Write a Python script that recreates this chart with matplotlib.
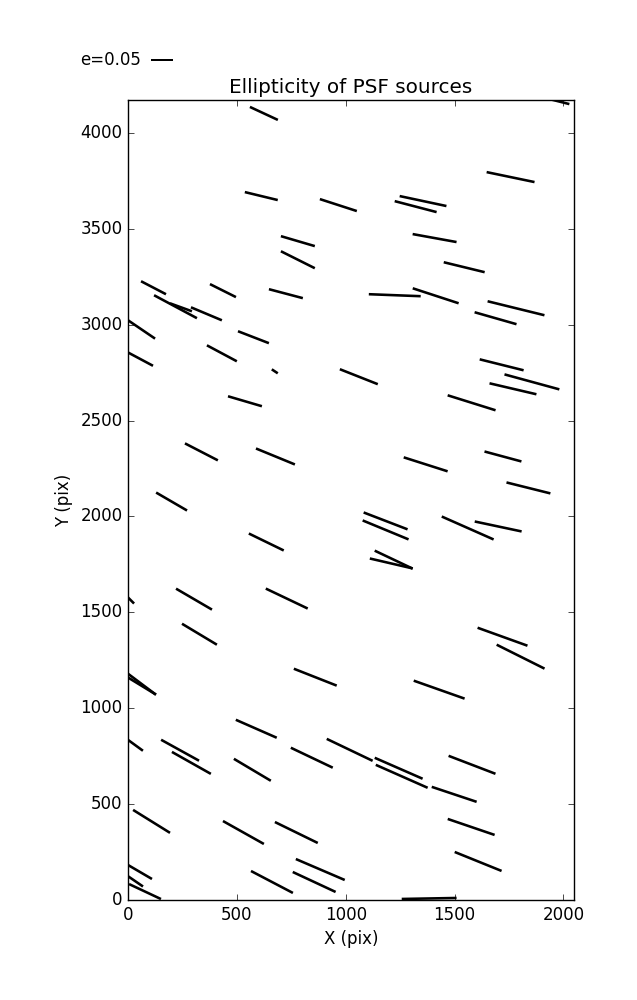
import numpy as np
import matplotlib
matplotlib.use("Agg")
import matplotlib.pyplot as plt

plt.style.use('classic')

# source positions (pix) and ellipticity components
x_src = [1956, 624, 612, 966, 1757, 1355, 1321, 780, 780, 1408,
         1544, 117, 436, 725, 1225, 1413, 1782, 1688, 218, 243,
         360, 60, 55, 576, 431, 674, 1060, 537, 337, 677,
         1716, 1855, 1768, 1578, 1722, 1367, 1839, 200, 635, 303,
         729, -18, 328, 860, 55, 55, 1183, 1183, 1560, 1700,
         1220, 1209, 1720, 1803, 1429, 589, 1018, 18, 239, 291,
         844, 571, 108, 530, 773, 883, 661, 855, 55, 32,
         78, 1243, 1257, 1498, 1580, 1576, 1608, 1383]
y_src = [4171, 4102, 3671, 3624, 3770, 3645, 3616, 3436, 3339, 3452,
         3300, 3193, 3178, 3162, 3154, 3151, 3086, 3034, 3094, 3091,
         3057, 2977, 2822, 2935, 2851, 2757, 2729, 2601, 2337, 2313,
         2791, 2702, 2666, 2593, 2313, 2272, 2149, 2078, 1867, 1569,
         1572, 1598, 1386, 1162, 1133, 1122, 1977, 1930, 1940, 1948,
         1775, 1755, 1373, 1269, 1097, 893, 783, 820, 781, 715,
         742, 679, 410, 352, 352, 159, 94, 94, 146, 99,
         44, 687, 645, 551, 705, 381, 201, 8]
e_x = [0.0714, 0.0645, 0.076, 0.0853, 0.1106, 0.108, 0.0968, 0.0783, 0.0783, 0.1014,
       0.0945, 0.0576, 0.060, 0.0783, 0.1198, 0.106, 0.1313, 0.0968, 0.099, 0.0507,
       0.0714, 0.0645, 0.060, 0.0714, 0.0691, 0.0138, 0.0876, 0.0783, 0.076, 0.0899,
       0.1014, 0.1267, 0.1083, 0.1106, 0.0853, 0.1014, 0.1014, 0.0714, 0.0806, 0.083,
       0.0968, 0.046, 0.0806, 0.099, 0.0737, 0.0737, 0.1014, 0.106, 0.1198, 0.1083,
       0.0876, 0.099, 0.1152, 0.1106, 0.1175, 0.0945, 0.106, 0.0507, 0.0876, 0.0899,
       0.0968, 0.0853, 0.0853, 0.0945, 0.099, 0.1129, 0.0968, 0.099, 0.0553, 0.0369,
       0.0737, 0.1106, 0.1198, 0.1037, 0.1083, 0.1083, 0.1083, 0.1267]
e_y = [-0.018, -0.030, -0.0184, -0.0276, -0.023, -0.023, -0.0253, -0.023, -0.0392, -0.0184,
       -0.023, -0.030, -0.030, -0.0207, -0.0046, -0.0346, -0.0323, -0.0276, -0.053, -0.0184,
       -0.030, -0.0438, -0.032, -0.0276, -0.0369, -0.0092, -0.0346, -0.023, -0.0392, -0.0369,
       -0.0253, -0.0346, -0.0253, -0.0346, -0.023, -0.0323, -0.0253, -0.0415, -0.0392, -0.0484,
       -0.0461, -0.046, -0.0484, -0.039, -0.0553, -0.045, -0.039, -0.0438, -0.053, -0.023,
       -0.0415, -0.023, -0.0415, -0.0553, -0.0415, -0.0415, -0.0507, -0.0369, -0.0484, -0.0507,
       -0.0461, -0.0507, -0.053, -0.053, -0.0484, -0.0484, -0.0507, -0.0461, -0.0323, -0.0253,
       -0.0346, -0.0484, -0.053, -0.0346, -0.0415, -0.0369, -0.0438, 0.0023]

fig = plt.figure(figsize=(6.37, 10), dpi=100, facecolor='white')
ax = fig.add_subplot(111)
fig.subplots_adjust(left=0.201, right=0.901, bottom=0.1, top=0.9)

q = ax.quiver(x_src, y_src, e_x, e_y, pivot='middle', angles='uv',
              headwidth=0, headlength=0, headaxislength=0,
              units='width', width=0.0058, scale_units='width', scale=1.03,
              color='k')
ax.quiverkey(q, 0.237, 0.94, 0.05, 'e=0.05', coordinates='figure',
             labelpos='W', fontproperties={'size': 12})

ax.set_xlim(0, 2048)
ax.set_ylim(0, 4172)
ax.set_xlabel('X (pix)')
ax.set_ylabel('Y (pix)')
ax.set_title('Ellipticity of PSF sources')

plt.savefig('out.png', dpi=100, facecolor='white')
